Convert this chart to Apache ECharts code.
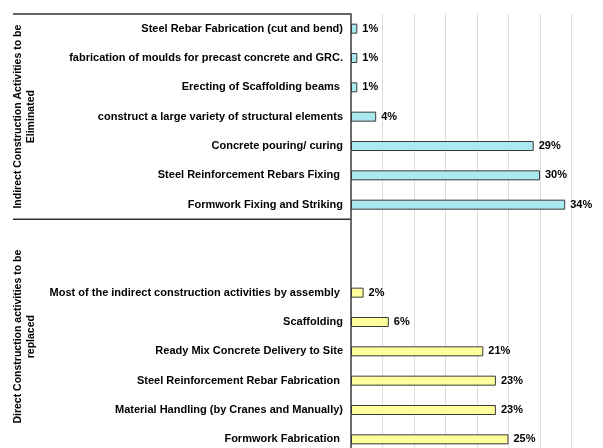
<!DOCTYPE html>
<html>
<head>
<meta charset="utf-8">
<script src="https://cdn.jsdelivr.net/npm/echarts@6/dist/echarts.min.js"></script>
<style>
  html, body { margin: 0; padding: 0; background: #fff; }
  #chart { width: 603px; height: 448px; }
</style>
</head>
<body>
<div id="chart"></div>
<script>
// group 1: indirect activities to be eliminated (top to bottom)
const indirectLabels = [
  'Steel Rebar Fabrication (cut and bend)',
  'fabrication of moulds for precast concrete and GRC.',
  'Erecting of Scaffolding beams ',
  'construct a large variety of structural elements',
  'Concrete pouring/ curing',
  'Steel Reinforcement Rebars Fixing ',
  'Formwork Fixing and Striking'
];
const indirectValues = [1, 1, 1, 4, 29, 30, 34];

// group 2: direct activities to be replaced (top to bottom)
const directLabels = [
  'Most of the indirect construction activities by assembly ',
  'Scaffolding',
  'Ready Mix Concrete Delivery to Site',
  'Steel Reinforcement Rebar Fabrication ',
  'Material Handling (by Cranes and Manually)',
  'Formwork Fabrication '
];
const directValues = [2, 6, 21, 23, 23, 25];

const groupNames = [
  'Indirect Construction Activities to be\nEliminated',
  'Direct Construction activities to be\nreplaced'
];
const blankRows = 2; // empty rows at the top of group 2

const chart = echarts.init(document.getElementById('chart'));

// build categories and bar data from the arrays
const categories = [];
const barData = [];
indirectLabels.forEach((l, i) => {
  categories.push(l);
  barData.push({ value: indirectValues[i], itemStyle: { color: '#a9e9ef' } });
});
for (let i = 0; i < blankRows; i++) {
  categories.push(' '.repeat(i + 1));
  barData.push({ value: null });
}
directLabels.forEach((l, i) => {
  categories.push(l);
  barData.push({ value: directValues[i], itemStyle: { color: '#ffff9c' } });
});

const font = '"Liberation Sans", Arial, sans-serif';

chart.setOption({
  animation: false,
  // chart is cropped at the bottom in the original, grid runs past the edge
  grid: { left: 351, top: 14, width: 252, height: 440, outerBoundsMode: 'none' },
  xAxis: {
    type: 'value',
    min: 0,
    max: 40,
    interval: 5,
    axisLabel: { show: false },
    axisLine: { show: false },
    axisTick: { show: false },
    splitLine: { lineStyle: { color: '#dcdcdc', width: 1 } }
  },
  yAxis: {
    type: 'category',
    inverse: true,
    data: categories,
    axisLine: { lineStyle: { color: '#404040', width: 1.5 } },
    axisTick: { show: false },
    axisLabel: {
      margin: 8,
      color: '#000',
      fontSize: 11,
      fontWeight: 'bold',
      fontFamily: font
    }
  },
  series: [{
    type: 'bar',
    data: barData,
    barWidth: 10,
    itemStyle: { borderColor: '#3a3a3a', borderWidth: 1 },
    label: {
      show: true,
      position: 'right',
      distance: 5,
      formatter: '{c}%',
      color: '#000',
      fontSize: 11,
      fontWeight: 'bold',
      fontFamily: font
    }
  }]
});

// group separators and rotated group titles, placed from the category scale
const p0 = chart.convertToPixel({ yAxisIndex: 0 }, 0);
const p1 = chart.convertToPixel({ yAxisIndex: 0 }, 1);
const band = p1 - p0;
const gridTop = p0 - band / 2;
const sepY = gridTop + indirectLabels.length * band;
const gridEnd = gridTop + categories.length * band;
const axisX = chart.convertToPixel({ xAxisIndex: 0 }, 0);

chart.setOption({
  graphic: [
    { type: 'line', shape: { x1: 13, y1: gridTop, x2: axisX, y2: gridTop },
      style: { stroke: '#303030', lineWidth: 1.5 } },
    { type: 'line', shape: { x1: 13, y1: sepY, x2: axisX, y2: sepY },
      style: { stroke: '#303030', lineWidth: 1.5 } },
    { type: 'text', x: 25, y: (gridTop + sepY) / 2, rotation: Math.PI / 2,
      style: { text: groupNames[0], align: 'center', verticalAlign: 'middle',
        font: 'bold 10.5px ' + font, fill: '#000', lineHeight: 13 } },
    { type: 'text', x: 25, y: (sepY + gridEnd) / 2, rotation: Math.PI / 2,
      style: { text: groupNames[1], align: 'center', verticalAlign: 'middle',
        font: 'bold 10.5px ' + font, fill: '#000', lineHeight: 13 } }
  ]
});
</script>
</body>
</html>
